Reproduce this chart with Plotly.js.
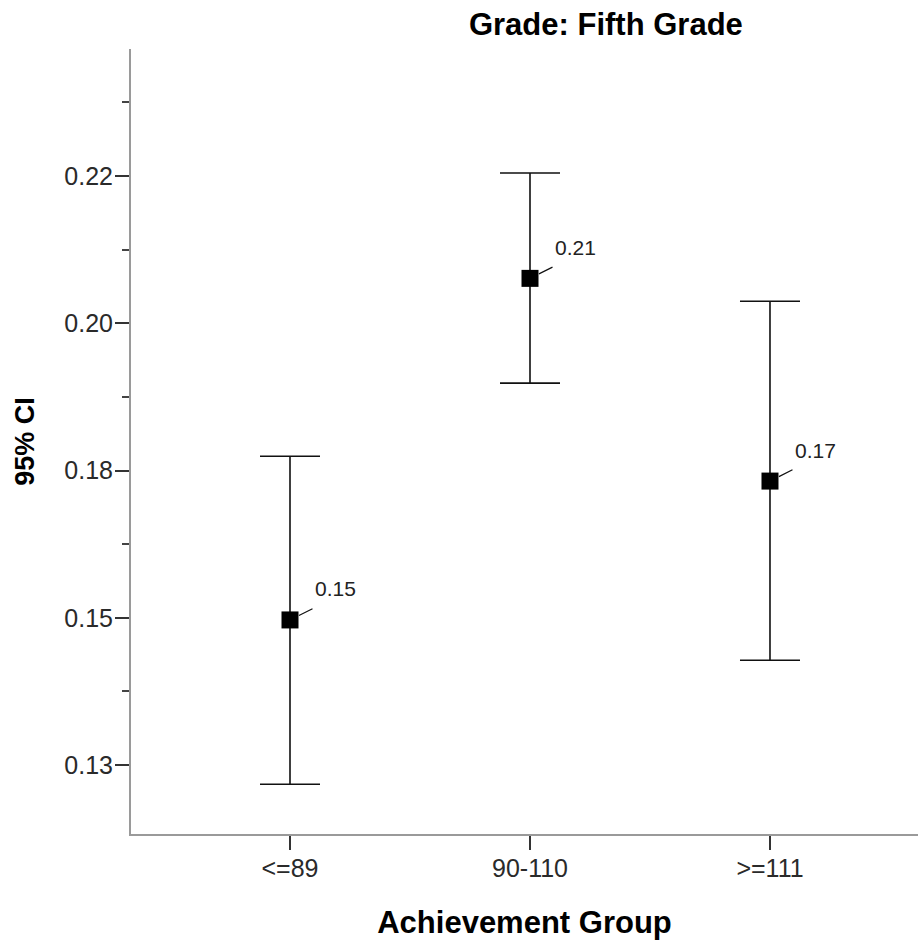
<!DOCTYPE html>
<html><head><meta charset="utf-8">
<script src="https://cdn.plot.ly/plotly-3.0.1.min.js"></script>
<style>html,body{margin:0;padding:0;background:#fff;}</style>
</head><body>
<div id="chart" style="width:918px;height:944px;"></div>
<script>
// ---- data ----
const groups = ['<=89', '90-110', '>=111'];
const means = [0.1509, 0.2060, 0.1733];
const upperCI = [0.1773, 0.2230, 0.2023];
const lowerCI = [0.1244, 0.1891, 0.1444];
const yTickVals = [0.1275, 0.15125, 0.175, 0.19875, 0.2225];
const yTickText = ['0.13', '0.15', '0.18', '0.20', '0.22'];
const titleText = 'Grade: Fifth Grade';
const xTitle = 'Achievement Group';
const yTitle = '95% CI';

const FONT = 'Liberation Sans, Arial, sans-serif';

const trace = {
  type: 'scatter',
  mode: 'markers',
  x: groups,
  y: means,
  cliponaxis: false,
  marker: {symbol: 'square', size: 17, color: '#000', line: {width: 0}},
  error_y: {
    type: 'data', symmetric: false,
    array: upperCI.map((u, i) => u - means[i]),
    arrayminus: lowerCI.map((l, i) => means[i] - l),
    color: '#111', thickness: 1.6, width: 30
  },
  hoverinfo: 'skip'
};

const annotations = [];
groups.forEach((g, i) => {
  annotations.push({
    x: g, y: means[i], xref: 'x', yref: 'y',
    text: ' ', font: {size: 1},
    showarrow: true, arrowhead: 0, arrowwidth: 1.2, arrowcolor: '#111',
    ax: 24, ay: -12, standoff: 10
  });
  annotations.push({
    x: g, y: means[i], xref: 'x', yref: 'y',
    text: means[i].toFixed(2), showarrow: false,
    xanchor: 'left', yanchor: 'middle', xshift: 23, yshift: 31,
    font: {family: FONT, size: 21, color: '#222'}
  });
});

const layout = {
  width: 918, height: 944,
  margin: {l: 131, r: 0, t: 49, b: 110, pad: 0},
  paper_bgcolor: '#fff', plot_bgcolor: '#fff',
  showlegend: false,
  font: {family: FONT, color: '#222'},
  title: {
    text: titleText, xref: 'container', yref: 'container',
    x: 0.66, xanchor: 'center', y: 0.974, yanchor: 'middle',
    font: {family: FONT, size: 31, weight: 'bold', color: '#000'}
  },
  xaxis: {
    type: 'category', range: [-0.6625, 2.6167],
    showline: true, linecolor: '#9a9a9a', linewidth: 2,
    ticks: 'outside', ticklen: 14, tickwidth: 2, tickcolor: '#333',
    ticklabelstandoff: -3,
    tickfont: {family: FONT, size: 25, color: '#2a2a2a'},
    showgrid: false, zeroline: false, fixedrange: true,
    title: {text: xTitle, standoff: 30, font: {family: FONT, size: 31, weight: 'bold', color: '#000'}}
  },
  yaxis: {
    range: [0.11637, 0.2430],
    tickmode: 'array', tickvals: yTickVals, ticktext: yTickText,
    showline: true, linecolor: '#9a9a9a', linewidth: 2,
    ticks: 'outside', ticklen: 14, tickwidth: 2, tickcolor: '#333',
    ticklabelstandoff: -3,
    tickfont: {family: FONT, size: 25, color: '#2a2a2a'},
    minor: {tickmode: 'linear', tick0: yTickVals[0], dtick: (yTickVals[1] - yTickVals[0]) / 2,
            ticks: 'outside', ticklen: 7, tickwidth: 2, tickcolor: '#444', showgrid: false},
    showgrid: false, zeroline: false, fixedrange: true,
    title: {text: yTitle, standoff: 22, font: {family: FONT, size: 27, weight: 'bold', color: '#000'}}
  },
  annotations: annotations
};

Plotly.newPlot('chart', [trace], layout, {displayModeBar: false, staticPlot: true});
</script>
</body></html>
